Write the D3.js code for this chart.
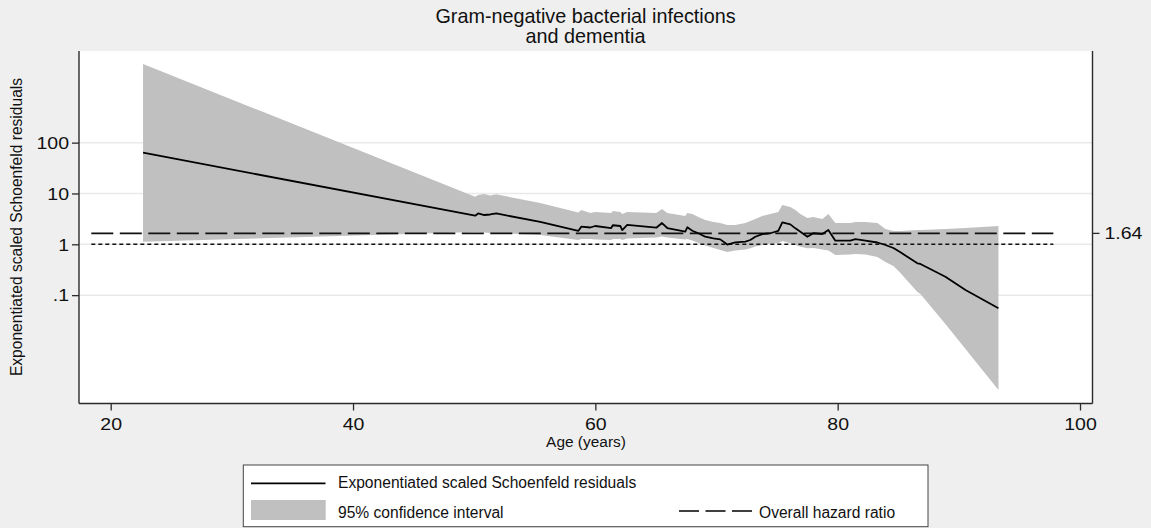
<!DOCTYPE html>
<html><head><meta charset="utf-8">
<script src="https://cdn.jsdelivr.net/npm/d3@7"></script>
<style>html,body{margin:0;padding:0;background:#efefef;} svg{display:block;}</style>
</head><body><svg id="chart" width="1151" height="528"></svg>
<script>
// ---- data ----
const ages = [22.67, 50.08, 50.33, 50.83, 51.32, 51.82, 55.45, 58.59, 58.84, 59.58, 59.99, 61.31, 61.44, 62.06, 62.22, 62.63, 65.03, 65.50, 65.94, 67.42, 67.59, 68.00, 68.50, 69.07, 69.74, 70.31, 70.89, 71.55, 72.38, 72.79, 73.20, 73.78, 74.44, 75.10, 75.43, 76.09, 76.51, 76.92, 77.50, 77.99, 78.74, 79.23, 79.81, 81.05, 81.46, 82.29, 83.28, 83.94, 84.60, 85.18, 86.58, 86.83, 88.89, 90.55, 93.27];
const residuals = [63.4, 3.65, 4.04, 3.77, 3.86, 4.04, 2.75, 1.83, 2.22, 2.14, 2.29, 2.09, 2.37, 2.29, 1.91, 2.40, 2.12, 2.62, 2.09, 1.77, 2.16, 1.85, 1.65, 1.41, 1.31, 1.25, 0.99, 1.095, 1.125, 1.215, 1.41, 1.59, 1.65, 1.83, 2.71, 2.47, 2.06, 1.77, 1.41, 1.65, 1.59, 1.91, 1.18, 1.18, 1.27, 1.18, 1.085, 0.969, 0.846, 0.696, 0.423, 0.410, 0.2305, 0.126, 0.0551];
const ciUpper = [3525, 8.64, 9.33, 9.76, 9.12, 9.63, 6.49, 4.22, 4.73, 4.13, 4.32, 4.13, 4.52, 4.32, 3.95, 4.32, 4.13, 4.95, 4.13, 3.60, 4.13, 3.95, 3.44, 3.01, 2.75, 2.62, 2.40, 2.40, 2.62, 2.87, 3.15, 3.60, 3.95, 4.32, 5.93, 5.42, 4.73, 3.95, 3.29, 3.44, 3.15, 3.95, 2.62, 2.62, 2.75, 2.75, 2.62, 2.00, 1.83, 1.83, 1.91, 1.91, 2.00, 2.09, 2.29];
const ciLower = [1.125, 1.746, 1.746, 1.707, 1.668, 1.668, 1.524, 1.215, 1.271, 1.271, 1.243, 1.215, 1.271, 1.271, 1.215, 1.30, 1.36, 1.42, 1.36, 1.243, 1.271, 1.188, 1.061, 0.947, 0.846, 0.772, 0.705, 0.755, 0.790, 0.834, 0.905, 0.969, 1.037, 1.046, 1.161, 1.046, 0.969, 0.897, 0.834, 0.846, 0.790, 0.755, 0.616, 0.630, 0.645, 0.630, 0.563, 0.449, 0.374, 0.2725, 0.1152, 0.1052, 0.0270, 0.00871, 0.00136];
const overallHR = 1.64;
const nullHR = 1;
const refAgeRange = [18.4, 97.8];
const xTicks = [20, 40, 60, 80, 100];
const yTicks = [100, 10, 1, 0.1];
const yTickLabels = ["100", "10", "1", ".1"];
const titleLines = ["Gram-negative bacterial infections", "and dementia"];
const xTitle = "Age (years)";
const yTitle = "Exponentiated scaled Schoenfeld residuals";
const legendLabels = ["Exponentiated scaled Schoenfeld residuals", "95% confidence interval", "Overall hazard ratio"];

// ---- drawing ----
const W = 1151, H = 528;
const SX = 1.22;
const FONT = "'Liberation Sans', Arial, Helvetica, sans-serif";
const svg = d3.select('#chart');
svg.append('rect').attr('width', W).attr('height', H).attr('fill', '#efefef');

const P = {left: 79, right: 1092.5, top: 51, bottom: 403.5};
svg.append('rect').attr('x', P.left).attr('y', P.top)
  .attr('width', P.right - P.left).attr('height', P.bottom - P.top).attr('fill', '#ffffff');

const x = d3.scaleLinear().domain([20, 100]).range([110.7, 1080]);
const y = d3.scaleLog().domain([0.000745, 6350]).range([403.3, 51]);

function txt(g, str, px, py, size, anchor, sx) {
  return g.append('text').text(str)
    .attr('transform', `translate(${px},${py}) scale(${sx},1)`)
    .attr('font-family', FONT).attr('font-size', size)
    .attr('text-anchor', anchor).attr('fill', '#111');
}

// grid
svg.append('g').selectAll('line').data(yTicks).join('line')
  .attr('x1', P.left).attr('x2', P.right)
  .attr('y1', d => y(d)).attr('y2', d => y(d))
  .attr('stroke', '#e9e9e9').attr('stroke-width', 1.5);

const rows = ages.map((a, i) => ({age: a, est: residuals[i], lo: ciLower[i], hi: ciUpper[i]}));

const clip = svg.append('clipPath').attr('id', 'clip').append('rect')
  .attr('x', P.left).attr('y', P.top).attr('width', P.right - P.left).attr('height', P.bottom - P.top);
const pg = svg.append('g').attr('clip-path', 'url(#clip)');

pg.append('path').datum(rows)
  .attr('d', d3.area().x(d => x(d.age)).y0(d => y(d.lo)).y1(d => y(d.hi)))
  .attr('fill', '#c0c0c0');

// reference lines
pg.append('line').attr('x1', x(refAgeRange[0])).attr('x2', x(refAgeRange[1]))
  .attr('y1', y(nullHR)).attr('y2', y(nullHR))
  .attr('stroke', '#111').attr('stroke-width', 1.6).attr('stroke-dasharray', '4,3');
pg.append('line').attr('x1', x(refAgeRange[0])).attr('x2', x(refAgeRange[1]))
  .attr('y1', y(overallHR)).attr('y2', y(overallHR))
  .attr('stroke', '#111').attr('stroke-width', 1.6).attr('stroke-dasharray', '22,6.5');

pg.append('path').datum(rows)
  .attr('d', d3.line().x(d => x(d.age)).y(d => y(d.est)))
  .attr('fill', 'none').attr('stroke', '#000').attr('stroke-width', 1.8).attr('stroke-linejoin', 'round');

// axes
const AX = '#2a2a2a';
const ya = svg.append('g').attr('transform', `translate(${P.left},0)`)
  .call(d3.axisLeft(y).tickValues(yTicks).tickFormat((d, i) => yTickLabels[i]).tickSize(7).tickSizeOuter(0));
ya.select('.domain').remove();
ya.selectAll('.tick line').attr('stroke', AX).attr('stroke-width', 1.3);
ya.selectAll('.tick text').attr('x', null).attr('dy', null)
  .attr('transform', `translate(-10,5.8) scale(${SX},1)`)
  .attr('font-family', FONT).attr('font-size', 16).attr('fill', '#111');

const xa = svg.append('g').attr('transform', `translate(0,${P.bottom})`)
  .call(d3.axisBottom(x).tickValues(xTicks).tickFormat(d3.format('d')).tickSize(7).tickSizeOuter(0));
xa.select('.domain').remove();
xa.selectAll('.tick line').attr('stroke', AX).attr('stroke-width', 1.3);
xa.selectAll('.tick text').attr('y', null).attr('dy', null)
  .attr('transform', `translate(0,26) scale(${SX},1)`)
  .attr('font-family', FONT).attr('font-size', 16).attr('fill', '#111');

// axis lines
svg.append('line').attr('x1', P.left).attr('x2', P.left).attr('y1', P.top).attr('y2', P.bottom)
  .attr('stroke', AX).attr('stroke-width', 1.4);
svg.append('line').attr('x1', P.left).attr('x2', P.right).attr('y1', P.bottom).attr('y2', P.bottom)
  .attr('stroke', AX).attr('stroke-width', 1.4);
svg.append('line').attr('x1', P.right).attr('x2', P.right).attr('y1', P.top).attr('y2', P.bottom)
  .attr('stroke', AX).attr('stroke-width', 1.4);
// right axis tick for overall HR
svg.append('line').attr('x1', P.right).attr('x2', P.right + 7)
  .attr('y1', y(overallHR)).attr('y2', y(overallHR)).attr('stroke', AX).attr('stroke-width', 1.3);
txt(svg, d3.format('.2f')(overallHR), P.right + 12, y(overallHR) + 5.8, 16, 'start', SX);

// titles
txt(svg, titleLines[0], 585.5, 22.7, 19.8, 'middle', 1);
txt(svg, titleLines[1], 585.5, 43, 19.8, 'middle', 1);
txt(svg, xTitle, 586, 447, 15, 'middle', 1.03);
svg.append('text').text(yTitle)
  .attr('transform', `translate(22,227) rotate(-90)`)
  .attr('font-family', FONT).attr('font-size', 15.6).attr('text-anchor', 'middle').attr('fill', '#111');

// legend
const L = svg.append('g');
L.append('rect').attr('x', 243.3).attr('y', 465).attr('width', 684.7).attr('height', 61.7)
  .attr('fill', '#fff').attr('stroke', '#444').attr('stroke-width', 1);
L.append('line').attr('x1', 251).attr('x2', 325.5).attr('y1', 483.3).attr('y2', 483.3)
  .attr('stroke', '#000').attr('stroke-width', 1.8);
txt(L, legendLabels[0], 338, 488.3, 15.6, 'start', 1);
L.append('rect').attr('x', 251).attr('y', 500).attr('width', 74.7).attr('height', 20).attr('fill', '#c0c0c0');
txt(L, legendLabels[1], 338, 517.5, 15.6, 'start', 1);
L.append('line').attr('x1', 679).attr('x2', 752).attr('y1', 511).attr('y2', 511)
  .attr('stroke', '#000').attr('stroke-width', 1.6).attr('stroke-dasharray', '20,6.5');
txt(L, legendLabels[2], 759, 517.5, 15.6, 'start', 1);
</script>
</body></html>
